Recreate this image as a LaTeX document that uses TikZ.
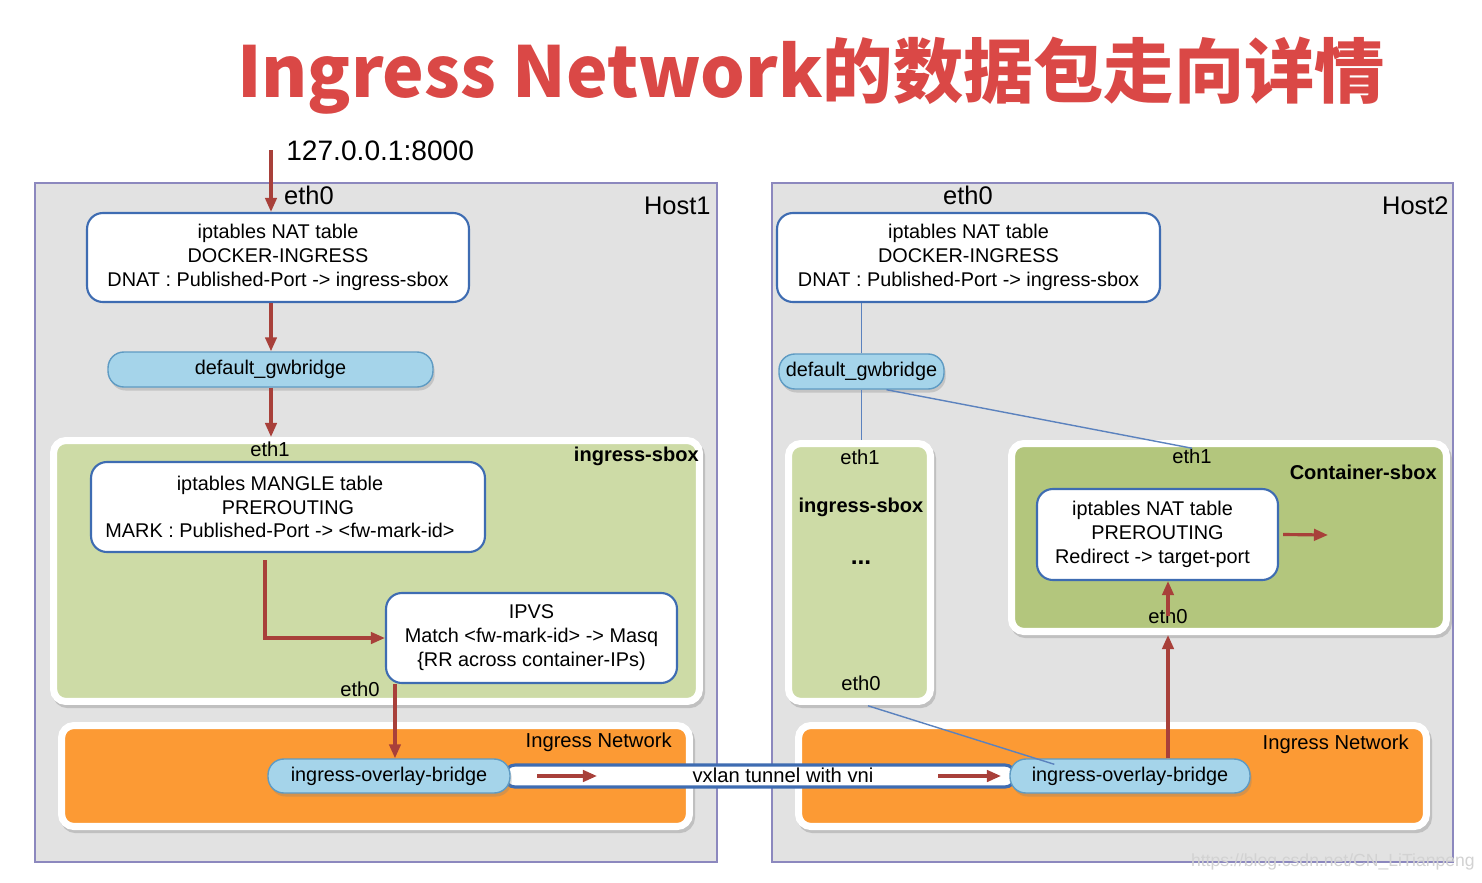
\documentclass[tikz,border=0pt]{standalone}
\usepackage{fontspec}
\setmainfont{Liberation Sans}
\newfontfamily\cjk{Noto Sans CJK SC}
\usetikzlibrary{arrows.meta,shadows}

\definecolor{hostgray}{RGB}{226,226,226}
\definecolor{hostline}{RGB}{140,136,190}
\definecolor{sboxgreen}{RGB}{205,219,166}
\definecolor{cboxgreen}{RGB}{179,198,125}
\definecolor{netorange}{RGB}{252,154,52}
\definecolor{bridgeblue}{RGB}{165,212,234}
\definecolor{bridgeline}{RGB}{95,155,195}
\definecolor{boxblue}{RGB}{62,108,178}
\definecolor{flowred}{RGB}{168,64,58}
\definecolor{titlered}{RGB}{218,72,70}

\tikzset{
	host/.style={draw=hostline, fill=hostgray, line width=0.9pt, inner sep=0pt},
	frame/.style={draw=white, line width=4pt, rounded corners=7pt, inner sep=0pt,
		preaction={draw=black, opacity=0.15, line width=4pt, transform canvas={shift={(1.2pt,-1.8pt)}}}},
	tablebox/.style={draw=boxblue, fill=white, line width=1.2pt, rounded corners=9pt, align=center,
		inner sep=0pt, font=\fontsize{11.3}{13.6}\selectfont},
	bridge/.style={draw=bridgeline, fill=bridgeblue, line width=0.8pt, rounded corners=9pt, inner sep=0pt,
		font=\fontsize{11.3}{13.6}\selectfont, drop shadow={opacity=0.3, shadow xshift=1pt, shadow yshift=-2pt}},
	lbl/.style={inner sep=0pt, font=\fontsize{11.5}{13}\selectfont},
	big/.style={inner sep=0pt, font=\fontsize{14.5}{16}\selectfont},
	tag/.style={inner sep=0pt, font=\fontsize{11.4}{13}\selectfont\bfseries},
	flow/.style={draw=flowred, line width=1.8pt, -{Triangle[length=8pt,width=6.5pt]}},
	link/.style={draw=boxblue!85, line width=0.8pt},
	wmark/.style={inner sep=0pt, text=gray!35, font=\fontsize{10}{12}\selectfont},
}

\begin{document}
\begin{tikzpicture}[x=0.02cm, y=-0.02cm]
	%%%%% START %%%%%
	\useasboundingbox[fill=white] (0,0) rectangle (1482,883);

	\node[inner sep=0pt, anchor=base, text=titlered, font=\cjk\bfseries\fontsize{40}{46}\selectfont] (ttl) at (811,97) {Ingress Network的数据包走向详情};

	% hosts
	\node[host, minimum width=13.64cm, minimum height=13.58cm] (host1) at (376,522.5) {};
	\node[host, minimum width=13.62cm, minimum height=13.58cm] (host2) at (1112.5,522.5) {};
	\node[big, anchor=east] (h1name) at (711,206) {Host1};
	\node[big, anchor=east] (h2name) at (1449,206) {Host2};

	% containers
	\node[frame, fill=sboxgreen, minimum width=12.92cm, minimum height=5.22cm] (sbox1) at (376.5,571) {};
	\node[frame, fill=sboxgreen, minimum width=2.84cm, minimum height=5.16cm] (sbox2) at (859.5,572.5) {};
	\node[frame, fill=cboxgreen, minimum width=8.7cm, minimum height=3.76cm] (csbox) at (1229,537.5) {};
	\node[frame, fill=netorange, minimum width=12.56cm, minimum height=2.02cm] (net1) at (375.5,776) {};
	\node[frame, fill=netorange, minimum width=12.56cm, minimum height=2.02cm] (net2) at (1112.5,776) {};

	\node[tag, anchor=east] (s1name) at (699,456) {ingress-sbox};
	\node[tag] (s2name) at (861,507) {ingress-sbox};
	\node[tag, font=\fontsize{14}{14}\selectfont\bfseries] (s2dots) at (861,563) {...};
	\node[tag, anchor=east] (cname) at (1437,472) {Container-sbox};
	\node[lbl, anchor=east] (n1name) at (672,742) {Ingress Network};
	\node[lbl, anchor=east] (n2name) at (1409,744) {Ingress Network};

	% host1
	\node[inner sep=0pt, anchor=west, font=\fontsize{16}{18}\selectfont] (addr) at (286,151) {127.0.0.1:8000};
	\node[big] (h1eth0) at (309,195) {eth0};
	\node[tablebox, minimum width=7.64cm, minimum height=1.78cm] (nat1) at (278,257.5)
		{iptables NAT table\\DOCKER-INGRESS\\DNAT : Published-Port -> ingress-sbox};
	\node[bridge, minimum width=6.5cm, minimum height=0.7cm] (gw1) at (270.5,369.5) {default\_gwbridge};
	\node[lbl] (s1eth1) at (270,449) {eth1};
	\node[tablebox, minimum width=7.88cm, minimum height=1.8cm] (mangle) at (288,507)
		{iptables MANGLE table\hspace*{0.32cm}\\PREROUTING\hspace*{0.32cm}\\MARK : Published-Port -> <fw-mark-id>\hspace*{0.32cm}};
	\node[tablebox, minimum width=5.82cm, minimum height=1.8cm] (ipvs) at (531.5,638)
		{IPVS\\Match <fw-mark-id> -> Masq\\\{RR across container-IPs)};
	\node[lbl] (s1eth0) at (360,689) {eth0};

	% host2
	\node[big] (h2eth0) at (968,195) {eth0};
	\node[tablebox, minimum width=7.66cm, minimum height=1.78cm] (nat2) at (968.5,257.5)
		{iptables NAT table\\DOCKER-INGRESS\\DNAT : Published-Port -> ingress-sbox};
	\node[bridge, minimum width=3.3cm, minimum height=0.7cm] (gw2) at (861.5,371.5) {default\_gwbridge};
	\node[lbl] (s2eth1) at (860,457) {eth1};
	\node[lbl] (s2eth0) at (861,683) {eth0};
	\node[lbl] (ceth1) at (1192,456) {eth1};
	\node[tablebox, minimum width=4.82cm, minimum height=1.82cm] (nat3) at (1157.5,534.5)
		{iptables NAT table\hspace*{0.2cm}\\PREROUTING\hspace*{0.2cm}\\Redirect -> target-port\hspace*{0.2cm}};
	\node[lbl] (ceth0) at (1168,616) {eth0};

	% tunnel
	\node[draw=boxblue, fill=white, line width=1.8pt, rounded corners=0.2cm, inner sep=0pt,
		minimum width=10.2cm, minimum height=0.44cm] (tun) at (760,776) {};
	\node[lbl] (vxlan) at (783,775) {vxlan tunnel with vni};
	\node[bridge, minimum width=4.84cm, minimum height=0.68cm] (ovl1) at (389,776) {ingress-overlay-bridge};
	\node[bridge, minimum width=4.8cm, minimum height=0.68cm] (ovl2) at (1130,776) {ingress-overlay-bridge};

	% flow host1
	\coordinate (src) at (271,150);
	\draw[flow] (src) -- (src |- nat1.north);
	\draw[flow] (nat1.south -| src) -- (gw1.north -| src);
	\draw[flow] (gw1.south -| src) -- (sbox1.north -| src);
	\coordinate (mk) at (265,560);
	\draw[flow] (mk) |- (ipvs.west);
	\draw[flow] ([xshift=0.2cm]ipvs.south west) -- ([xshift=0.2cm]ipvs.south west |- ovl1.north);

	% tunnel
	\coordinate (t1a) at (537,776);
	\coordinate (t1b) at (597,776);
	\coordinate (t2a) at (938,776);
	\coordinate (t2b) at (1001,776);
	\draw[flow] (t1a) -- (t1b);
	\draw[flow] (t2a) -- (t2b);

	% host2
	\draw[link] (gw2.north) -- (gw2.north |- nat2.south);
	\draw[link] (gw2.south) -- (gw2.south |- sbox2.north);
	\draw[link] ([xshift=0.5cm]gw2.south) -- (ceth1.north);
	\draw[link] ([xshift=0.14cm,yshift=-0.3cm]s2eth0.south) -- ([xshift=0.9cm,yshift=-0.12cm]ovl2.north west);
	\draw[flow] (ovl2.north -| ceth0) -- (csbox.south -| ceth0);
	\draw[flow] (ceth0.center) -- (nat3.south -| ceth0);
	\coordinate (dst) at (1328,535);
	\draw[flow] ([xshift=0.08cm]nat3.east) -- (dst);

	\node[wmark, anchor=east] (wm) at (1475,862) {https://blog.csdn.net/CN\_LiTianpeng};
	%%%%% END %%%%%
\end{tikzpicture}
\end{document}
